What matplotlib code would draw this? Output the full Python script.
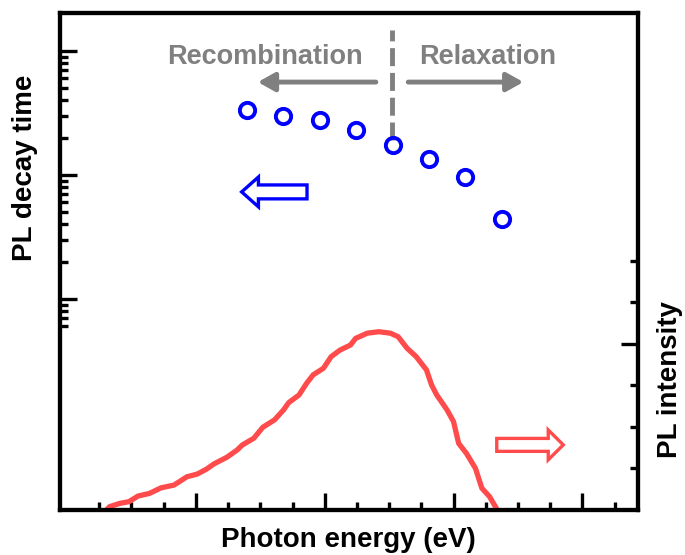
import numpy as np
import matplotlib
matplotlib.use('Agg')
import matplotlib.pyplot as plt
from matplotlib.patches import FancyArrow
from matplotlib.ticker import FixedLocator, NullFormatter

plt.rcParams['font.family'] = ['Liberation Sans', 'DejaVu Sans']
plt.rcParams['font.weight'] = 'bold'

# PL decay time (log axis, arbitrary units)
decay_energy = [1.40, 1.68, 1.96, 2.24, 2.53, 2.81, 3.09, 3.38]
decay_time = [33.4, 29.9, 27.8, 23.1, 17.5, 13.5, 9.6, 4.42]

# PL intensity spectrum (right axis, arbitrary units)
pl_energy = [0.29, 0.33, 0.41, 0.48, 0.55, 0.64, 0.73, 0.83, 0.93, 1.01,
             1.08, 1.14, 1.24, 1.32, 1.36, 1.45, 1.52, 1.61, 1.68, 1.72,
             1.80, 1.86, 1.91, 1.99, 2.05, 2.12, 2.20, 2.24, 2.33, 2.42,
             2.51, 2.57, 2.64, 2.71, 2.79, 2.83, 2.87, 2.95, 3.00, 3.04,
             3.10, 3.17, 3.22, 3.28, 3.35]
pl_intensity = [-0.01, 0.016, 0.032, 0.040, 0.067, 0.080, 0.107, 0.120, 0.160, 0.173,
                0.196, 0.222, 0.254, 0.289, 0.313, 0.346, 0.399, 0.434, 0.482, 0.517,
                0.554, 0.611, 0.651, 0.683, 0.739, 0.771, 0.795, 0.827, 0.852, 0.859,
                0.852, 0.835, 0.779, 0.739, 0.675, 0.602, 0.554, 0.482, 0.426, 0.321,
                0.273, 0.201, 0.105, 0.064, -0.01]

x_major = [1, 2, 3, 4]
x_minor = [0.25, 0.5, 0.75, 1.25, 1.5, 1.75, 2.25, 2.5, 2.75, 3.25, 3.5, 3.75, 4.25]
left_major = [1, 10, 100]
left_minor = [0.6, 0.7, 0.8, 0.9] + [k * 1.0 for k in range(2, 10)] + [k * 10.0 for k in range(2, 10)]
right_major = [0.8]
right_minor = [0.2, 0.4, 0.6, 1.0, 1.2]

blue = '#0000FF'
red = '#FF4B4B'
gray = '#808080'

fig = plt.figure(figsize=(6.85, 5.55), dpi=100)
ax = fig.add_axes([0.0876, 0.0811, 0.8445, 0.8955])
ax2 = ax.twinx()

ax.set_yscale('log')
ax.set_xlim(-0.055, 4.436)
ax.set_ylim(0.01987, 202)
ax2.set_ylim(0, 2.395)

ax.plot(decay_energy, decay_time, 'o', ms=11, mfc='none', mec=blue, mew=2.8, zorder=5)
ax2.plot(pl_energy, pl_intensity, color=red, lw=3.8, solid_capstyle='butt',
         solid_joinstyle='round')

# ticks
ax.xaxis.set_major_locator(FixedLocator(x_major))
ax.xaxis.set_minor_locator(FixedLocator(x_minor))
ax.yaxis.set_major_locator(FixedLocator(left_major))
ax.yaxis.set_minor_locator(FixedLocator(left_minor))
ax2.yaxis.set_major_locator(FixedLocator(right_major))
ax2.yaxis.set_minor_locator(FixedLocator(right_minor))
for a in (ax, ax2):
    a.xaxis.set_major_formatter(NullFormatter())
    a.xaxis.set_minor_formatter(NullFormatter())
    a.yaxis.set_major_formatter(NullFormatter())
    a.yaxis.set_minor_formatter(NullFormatter())
    a.tick_params(which='major', direction='in', length=12, width=2.4)
    a.tick_params(which='minor', direction='in', length=6, width=2.4)
ax.tick_params(which='both', top=False, right=False)
ax2.tick_params(which='both', left=False)
for a in (ax, ax2):
    for s in a.spines.values():
        s.set_linewidth(3)

# labels
fig.text(25 / 685, 1 - 168 / 555, 'PL decay time', rotation=90, ha='center', va='center', fontsize=20)
fig.text(670 / 685, 1 - 380 / 555, 'PL intensity', rotation=90, ha='center', va='center', fontsize=20)
fig.text(348 / 685, 1 - 540 / 555, 'Photon energy (eV)', ha='center', va='center', fontsize=20)

# recombination / relaxation annotation
ax.axvline(2.52, ymin=0.744, ymax=0.966, color=gray, lw=3.5, ls=(0, (3.7, 1.4)))
ax.text(0.354, 0.912, 'Recombination', transform=ax.transAxes, ha='center', va='center',
        fontsize=19.5, color=gray)
ax.text(0.739, 0.912, 'Relaxation', transform=ax.transAxes, ha='center', va='center',
        fontsize=19.5, color=gray)
arrow_style = dict(arrowstyle='-|>,head_length=0.5,head_width=0.28', lw=3.5, color=gray,
                   mutation_scale=20, shrinkA=0, shrinkB=0)
ax.annotate('', xy=(0.342, 0.861), xytext=(0.546, 0.861), xycoords='axes fraction',
            textcoords='axes fraction', arrowprops=arrow_style)
ax.annotate('', xy=(0.801, 0.861), xytext=(0.602, 0.861), xycoords='axes fraction',
            textcoords='axes fraction', arrowprops=arrow_style)

# hollow block arrows pointing to the axis of each curve
ax.add_patch(FancyArrow(0.427, 0.640, -0.113, 0, width=0.028, head_width=0.060,
                        head_length=0.029, length_includes_head=True, fc='white',
                        ec=blue, lw=2.4, transform=ax.transAxes, zorder=6))
ax.add_patch(FancyArrow(0.755, 0.131, 0.115, 0, width=0.026, head_width=0.060,
                        head_length=0.026, length_includes_head=True, fc='white',
                        ec=red, lw=2.4, transform=ax.transAxes, zorder=6))

fig.savefig('out.png', dpi=100)
